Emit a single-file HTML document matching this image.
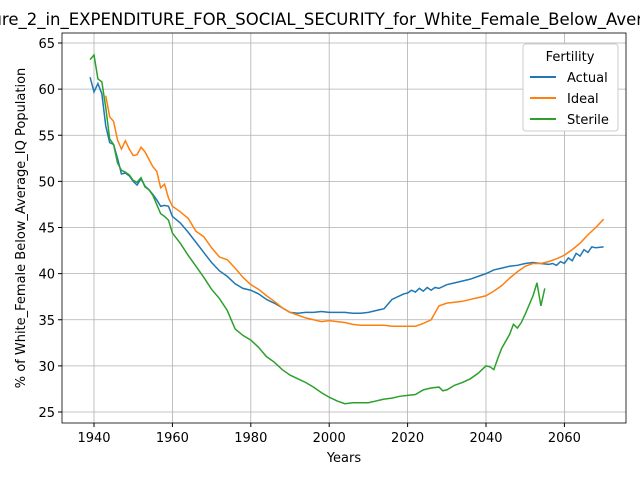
<!DOCTYPE html>
<html><head><meta charset="utf-8"><style>
body{margin:0;background:#fff;width:640px;height:480px;overflow:hidden;font-family:"Liberation Sans","DejaVu Sans",sans-serif}
</style></head><body>
<svg id="c" width="640" height="480" xmlns="http://www.w3.org/2000/svg" font-family="DejaVu Sans, Liberation Sans, sans-serif">
<rect width="640" height="480" fill="#fff"/>
<text x="334" y="25" text-anchor="middle" font-size="16.5">Figure_2_in_EXPENDITURE_FOR_SOCIAL_SECURITY_for_White_Female_Below_Average_IQ</text>
<g id="grid"></g><g id="series"></g>
<rect x="62" y="33" width="564" height="390" fill="none" stroke="#000" stroke-width="0.8"/>
<g id="ticks" font-size="13"></g>
<text x="344" y="462" text-anchor="middle" font-size="13">Years</text>
<text transform="translate(25,228) rotate(-90)" text-anchor="middle" font-size="13">% of White_Female Below_Average_IQ Population</text>
<g>
<rect x="523" y="44" width="95" height="87" rx="3" fill="#fff" stroke="#ccc"/>
<text x="570" y="61" text-anchor="middle" font-size="13">Fertility</text>
<line x1="530" y1="77" x2="556" y2="77" stroke="#1f77b4" stroke-width="2"/><text x="567" y="82" font-size="13">Actual</text>
<line x1="530" y1="98" x2="556" y2="98" stroke="#ff7f0e" stroke-width="2"/><text x="567" y="103" font-size="13">Ideal</text>
<line x1="530" y1="119" x2="556" y2="119" stroke="#2ca02c" stroke-width="2"/><text x="567" y="124" font-size="13">Sterile</text>
</g>
</svg>
<script>
const xTicks=[1940,1960,1980,2000,2020,2040,2060];
const yTicks=[25,30,35,40,45,50,55,60,65];
const actualYears=[1939,1940,1941,1942,1943,1944,1945,1946,1947,1948,1949,1950,1951,1952,1953,1954,1955,1956,1957,1958,1959,1960,1962,1964,1966,1968,1970,1972,1974,1976,1978,1980,1982,1984,1986,1988,1990,1992,1994,1996,1998,2000,2002,2004,2006,2008,2010,2012,2014,2016,2018,2019,2020,2021,2022,2023,2024,2025,2026,2027,2028,2030,2032,2034,2036,2038,2040,2042,2044,2046,2048,2050,2052,2054,2056,2057,2058,2059,2060,2061,2062,2063,2064,2065,2066,2067,2068,2070];
const actualValues=[61.3,59.7,60.6,59.5,56,54.2,54,52.5,50.8,50.9,50.6,50,49.6,50.3,49.5,49.1,48.6,48,47.3,47.4,47.3,46.2,45.5,44.5,43.4,42.3,41.2,40.3,39.7,38.9,38.4,38.2,37.8,37.2,36.8,36.3,35.8,35.7,35.8,35.8,35.9,35.8,35.8,35.8,35.7,35.7,35.8,36,36.2,37.2,37.6,37.8,37.9,38.2,38,38.4,38.1,38.5,38.2,38.5,38.4,38.8,39,39.2,39.4,39.7,40,40.4,40.6,40.8,40.9,41.1,41.2,41.1,41,41.1,40.9,41.3,41.1,41.7,41.4,42.2,41.9,42.6,42.3,42.9,42.8,42.9];
const idealYears=[1943,1944,1945,1946,1947,1948,1949,1950,1951,1952,1953,1954,1955,1956,1957,1958,1959,1960,1962,1964,1966,1968,1970,1972,1974,1976,1978,1980,1982,1984,1986,1988,1990,1992,1994,1996,1998,2000,2002,2004,2006,2008,2010,2012,2014,2016,2018,2020,2022,2024,2026,2028,2030,2032,2034,2036,2038,2040,2042,2044,2046,2048,2050,2052,2054,2056,2058,2060,2062,2064,2066,2068,2070];
const idealValues=[59.3,57,56.5,54.5,53.5,54.4,53.5,52.8,52.9,53.7,53.2,52.4,51.6,51.1,49.3,49.7,48.2,47.3,46.7,46,44.6,44,42.8,41.8,41.5,40.6,39.6,38.8,38.3,37.6,37,36.3,35.8,35.5,35.2,35,34.8,34.9,34.8,34.7,34.5,34.4,34.4,34.4,34.4,34.3,34.3,34.3,34.3,34.6,35,36.5,36.8,36.9,37,37.2,37.4,37.6,38.1,38.7,39.5,40.2,40.8,41.1,41.1,41.3,41.6,42,42.6,43.3,44.2,45,45.9];
const sterileYears=[1939,1940,1941,1942,1943,1944,1945,1946,1947,1948,1949,1950,1951,1952,1953,1954,1955,1956,1957,1958,1959,1960,1962,1964,1966,1968,1970,1972,1974,1976,1978,1980,1982,1984,1986,1988,1990,1992,1994,1996,1998,2000,2002,2004,2006,2008,2010,2012,2014,2016,2018,2020,2022,2024,2026,2028,2029,2030,2032,2034,2036,2038,2040,2041,2042,2043,2044,2046,2047,2048,2049,2050,2052,2053,2054,2055];
const sterileValues=[63.2,63.7,61.1,60.8,58,54.6,54,52,51.2,51,50.7,50.1,49.9,50.4,49.4,49.1,48.5,47.5,46.5,46.2,45.8,44.4,43.3,42,40.8,39.6,38.3,37.3,36,34,33.3,32.8,32,31,30.4,29.6,29,28.6,28.2,27.7,27.1,26.6,26.2,25.9,26,26,26,26.2,26.4,26.5,26.7,26.8,26.9,27.4,27.6,27.7,27.3,27.4,27.9,28.2,28.6,29.2,30,29.9,29.6,30.8,31.9,33.4,34.5,34.1,34.7,35.6,37.6,39,36.5,38.4];
const X=y=>94+(y-1940)*3.92;
const Y=v=>43+(65-v)*9.225;
const NS="http://www.w3.org/2000/svg";
const grid=document.getElementById('grid'),ticks=document.getElementById('ticks'),ser=document.getElementById('series');
function mk(t,a,p){const e=document.createElementNS(NS,t);for(const k in a)e.setAttribute(k,a[k]);p.appendChild(e);return e;}
xTicks.forEach(t=>{const x=X(t);
const g=mk('line',{x1:x,x2:x,y1:33,y2:423,stroke:'#b0b0b0','stroke-width':0.8},grid);


mk('line',{x1:x,x2:x,y1:423,y2:427,stroke:'#000'},ticks);
const l=mk('text',{x:x,y:442,'text-anchor':'middle'},ticks);l.textContent=t;

});
yTicks.forEach(t=>{const y=Y(t);
const g=mk('line',{x1:62,x2:626,y1:y,y2:y,stroke:'#b0b0b0','stroke-width':0.8},grid);


mk('line',{x1:58,x2:62,y1:y,y2:y,stroke:'#000'},ticks);
const l=mk('text',{x:55,y:y+5,'text-anchor':'end'},ticks);l.textContent=t;

});
function line(xs,vs,c,n){const p=mk('polyline',{points:xs.map((x,i)=>X(x)+','+Y(vs[i])).join(' '),fill:'none',stroke:c,'stroke-width':1.5},ser);

}
line(actualYears,actualValues,'#1f77b4','actual-line');
line(idealYears,idealValues,'#ff7f0e','ideal-line');
line(sterileYears,sterileValues,'#2ca02c','sterile-line');
</script>
</body></html>
